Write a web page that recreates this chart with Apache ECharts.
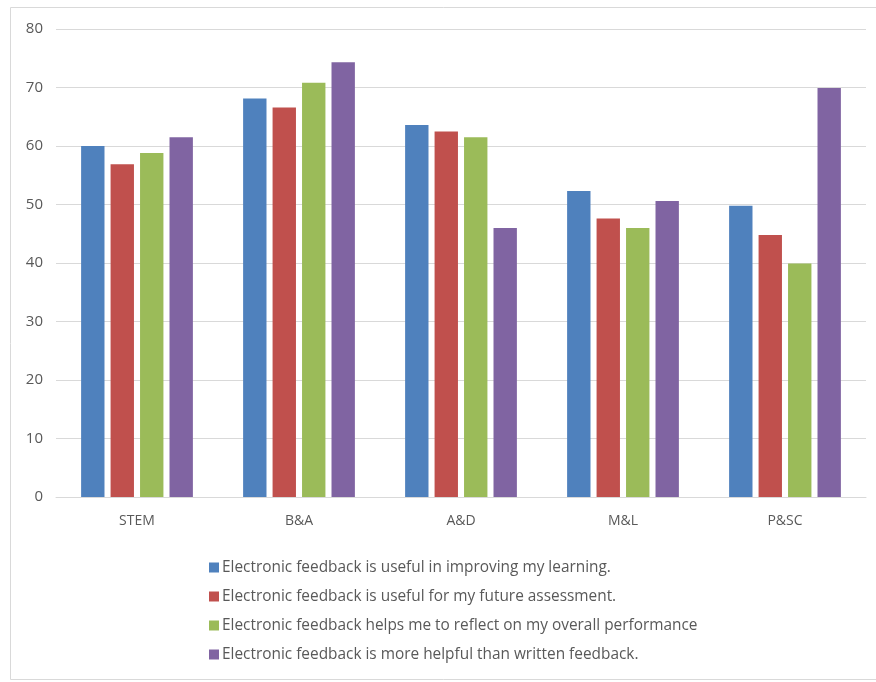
<!DOCTYPE html>
<html><head><meta charset="utf-8">
<script src="https://cdn.jsdelivr.net/npm/echarts@6/dist/echarts.min.js"></script>
<style>html,body{margin:0;padding:0;background:#fff}#c{width:876px;height:682px}</style>
</head><body><div id="c"></div>
<script>
const categories = ['STEM', 'B&A', 'A&D', 'M&L', 'P&SC'];
const seriesNames = [
  'Electronic feedback is useful in improving my learning.',
  'Electronic feedback is useful for my future assessment.',
  'Electronic feedback helps me to reflect on my overall performance',
  'Electronic feedback is more helpful than written feedback.'
];
const improving = [60.0, 68.1, 63.6, 52.3, 49.8];
const futureAssessment = [56.9, 66.6, 62.5, 47.6, 44.8];
const reflect = [58.8, 70.8, 61.5, 46.0, 39.9];
const moreHelpful = [61.5, 74.3, 46.0, 50.6, 69.9];
const colors = ['#4F81BD', '#C0504D', '#9BBB59', '#8064A2'];
const values = [improving, futureAssessment, reflect, moreHelpful];

const chart = echarts.init(document.getElementById('c'));
chart.setOption({
  animation: false,
  color: colors,
  textStyle: { fontFamily: 'Open Sans, Calibri, sans-serif' },
  graphic: [{
    type: 'rect', shape: { x: 10.5, y: 7.5, width: 880, height: 672 },
    style: { fill: 'none', stroke: '#D9D9D9', lineWidth: 1 }, silent: true
  }],
  grid: { left: 56, right: 10, top: 29, bottom: 185 },
  legend: {
    orient: 'vertical', left: 204, top: 555,
    itemWidth: 10, itemHeight: 10, itemGap: 14, icon: 'rect',
    textStyle: { fontSize: 15.4, color: '#595959', fontFamily: 'Open Sans, sans-serif', padding: [0, 0, 0, -2] },
    data: seriesNames
  },
  xAxis: {
    type: 'category', data: categories,
    axisLine: { lineStyle: { color: '#D9D9D9' } },
    axisTick: { show: false },
    axisLabel: { color: '#595959', fontSize: 14, margin: 17 }
  },
  yAxis: {
    type: 'value', min: 0, max: 80, interval: 10,
    axisLine: { show: false }, axisTick: { show: false },
    splitLine: { lineStyle: { color: '#D9D9D9' } },
    axisLabel: { color: '#595959', fontSize: 15, margin: 13 }
  },
  series: seriesNames.map((n, i) => ({
    name: n, type: 'bar', data: values[i],
    barGap: '26%', barCategoryGap: '31%'
  }))
});
</script></body></html>
